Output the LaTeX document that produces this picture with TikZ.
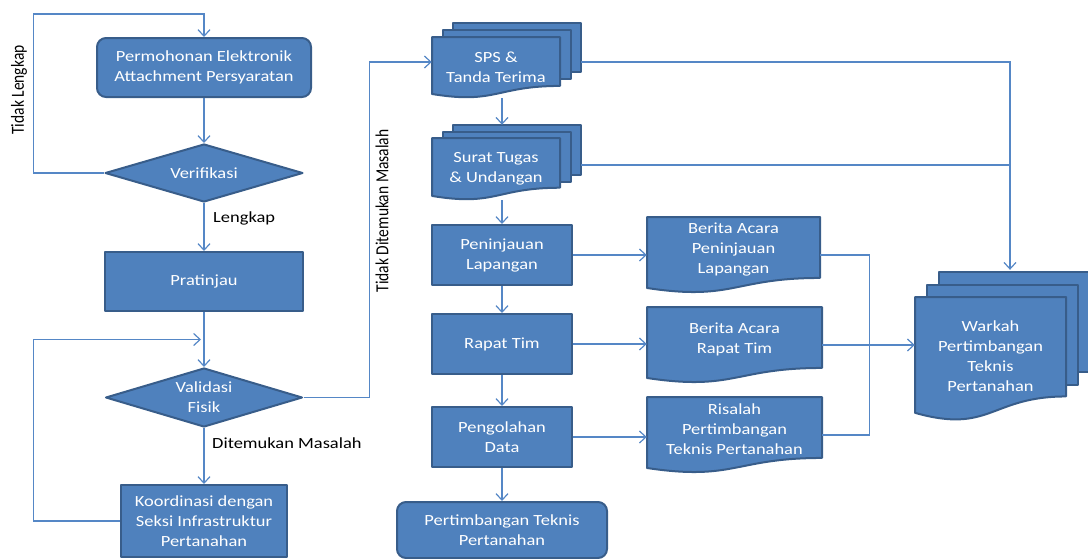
\documentclass[tikz,border=0pt]{standalone}
\usepackage{fontspec}
\setmainfont{Carlito}
\usetikzlibrary{shapes.geometric,arrows.meta,calc}
\definecolor{boxfill}{HTML}{4F81BD}
\definecolor{boxline}{HTML}{385D8A}
\definecolor{conline}{HTML}{5587C6}
\tikzset{
  txt/.style={text=white, align=center, font=\fontsize{15.5}{20}\selectfont, inner sep=0pt},
  hx/.style={xscale=1.19},
  shp/.style={fill=boxfill, draw=boxline, line width=2pt, line join=round},
  proc/.style={txt, hx, shp, rectangle},
  rproc/.style={proc, rounded corners=9pt},
  decis/.style={txt, hx, shp, diamond, aspect=2.9},
  docnode/.style={txt, rectangle, draw=none},
  conn/.style={draw=conline, line width=1.2pt, -{Straight Barb[length=6.5pt,width=12pt]}},
  link/.style={draw=conline, line width=1.2pt},
  lbl/.style={text=black, font=\fontsize{15.5}{20}\selectfont, inner sep=0pt}
}
% document shape: left, top, right, height
\newcommand\docshape[4]{%
  \path[shp] (#1,#2) -- (#3,#2) -- (#3,{#2+0.802*#4})
    .. controls ({(#1+#3)/2},{#2+0.802*#4}) and ({(#1+#3)/2},{#2+1.107*#4}) .. (#1,{#2+0.934*#4}) -- cycle;}
% multi document: left, top, right, height, dx, dy
\newcommand\multidoc[6]{%
  \path[shp] ({#1+2*#5},{#2-2*#6}) rectangle ({#3+2*#5},{#2-2*#6+0.81*#4});
  \path[shp] ({#1+#5},{#2-#6}) rectangle ({#3+#5},{#2-#6+0.81*#4});
  \docshape{#1}{#2}{#3}{#4}}
\begin{document}
\begin{tikzpicture}[x=1pt,y=-1pt]
\useasboundingbox (0,0) rectangle (1088,558);

% left column
\node[rproc, minimum width=214pt/1.19, minimum height=59pt] (perm) at (204,67.5) {Permohonan Elektronik\\Attachment Persyaratan};
\node[decis, minimum width=198pt/1.19, minimum height=58pt] (ver) at (204,173) {Verifikasi};
\node[proc, minimum width=198pt/1.19, minimum height=59pt] (prat) at (204,281.5) {Pratinjau};
\node[decis, minimum width=197pt/1.19, minimum height=59pt] (val) at (204,397.5) {Validasi\\Fisik};
\node[proc, minimum width=166pt/1.19, minimum height=72pt] (koor) at (204,521) {Koordinasi dengan\\Seksi Infrastruktur\\Pertanahan};

% documents
\multidoc{432}{37}{560}{61}{10.5}{7}
\node[docnode, hx, minimum width=128pt/1.19, minimum height=61pt] (sps) at (496,67.5) {SPS \&\\Tanda Terima};
\multidoc{432}{138}{560}{62}{10.5}{6.5}
\node[docnode, hx, minimum width=128pt/1.19, minimum height=62pt] (st) at (496,169) {Surat Tugas\\\& Undangan};

% middle column
\node[proc, minimum width=140pt/1.19, minimum height=60pt] (pen) at (502,255) {Peninjauan\\Lapangan};
\node[proc, minimum width=140pt/1.19, minimum height=60pt] (rap) at (502,344) {Rapat Tim};
\node[proc, minimum width=140pt/1.19, minimum height=60pt] (peng) at (502,437) {Pengolahan\\Data};
\node[rproc, minimum width=210pt/1.19, minimum height=56pt] (pert) at (502,530) {Pertimbangan Teknis\\Pertanahan};

% single documents
\docshape{647}{217}{820}{76}
\node[docnode, minimum width=173pt, minimum height=76pt] (bap) at (733.5,255) {};
\node[txt, hx] (bapT) at ([yshift=6pt]bap.center) {Berita Acara\\Peninjauan\\Lapangan};
\docshape{647}{307}{822}{76}
\node[docnode, minimum width=175pt, minimum height=76pt] (bar) at (734.5,345) {};
\node[txt, hx] (barT) at ([yshift=6pt]bar.center) {Berita Acara\\Rapat Tim};
\docshape{647}{397}{822}{76}
\node[docnode, minimum width=175pt, minimum height=76pt] (ris) at (734.5,435) {};
\node[txt, hx] (risT) at ([yshift=6pt]ris.center) {Risalah\\Pertimbangan\\Teknis Pertanahan};

% warkah
\multidoc{915}{297}{1066}{124}{12}{12.5}
\node[docnode, minimum width=151pt, minimum height=124pt] (wk) at (990.5,359) {};
\node[txt, hx] (wkT) at ([yshift=3pt]wk.center) {Warkah\\Pertimbangan\\Teknis\\Pertanahan};
\coordinate (wkin) at ([xshift=19.5pt,yshift=27pt]wk.north);

% labels
\node[lbl, hx, anchor=west] (lLengkap) at (213,218) {Lengkap};
\node[lbl, hx, anchor=west] (lDitemukan) at (212,443) {Ditemukan Masalah};
\node[lbl, rotate=90, yscale=1.19] (lTidakLengkap) at (19,90) {Tidak Lengkap};
\node[lbl, rotate=90, yscale=1.19] (lTidakDit) at (382,211) {Tidak Ditemukan Masalah};

% connectors left column
\draw[conn] (perm.south) -- (ver.north);
\draw[conn] (ver.south) -- (prat.north);
\draw[conn] (prat.south) -- (val.north);
\draw[conn] (val.south) -- (koor.north);
\draw[conn] (ver.west) -- ++(-70,0) |- ([yshift=23pt]perm.north) -- (perm.north);
\coordinate (pvjoin) at ($(prat.south)!0.5!(val.north)$);
\draw[conn, shorten >=3pt] (koor.west) -- ++(-86,0) |- (pvjoin);
\draw[conn] (val.east) -- ++(66,0) |- ([yshift=5.5pt]sps.west);

% middle column
\draw[conn] (sps.south -| pen.north) -- ([yshift=13pt]st.north -| pen.north);
\draw[conn] (st.south -| pen.north) -- (pen.north);
\draw[conn] (pen.south) -- (rap.north);
\draw[conn] (rap.south) -- (peng.north);
\draw[conn] (peng.south) -- (pert.north);
\draw[conn] (pen.east) -- (bap.west);
\draw[conn] (rap.east) -- (rap.east -| bar.west);
\draw[conn] (peng.east) -- (peng.east -| ris.west);

% to warkah
\draw[link] (bap.east) -- ++(49,0) |- (ris.east);
\draw[conn] (bar.east) -- (bar.east -| wk.west);
\draw[conn] ([xshift=21pt,yshift=5.5pt]sps.east) -| (wkin);
\draw[link] ([xshift=21pt,yshift=4pt]st.east) -- ([yshift=4pt]st.east -| wkin);
\end{tikzpicture}
\end{document}
